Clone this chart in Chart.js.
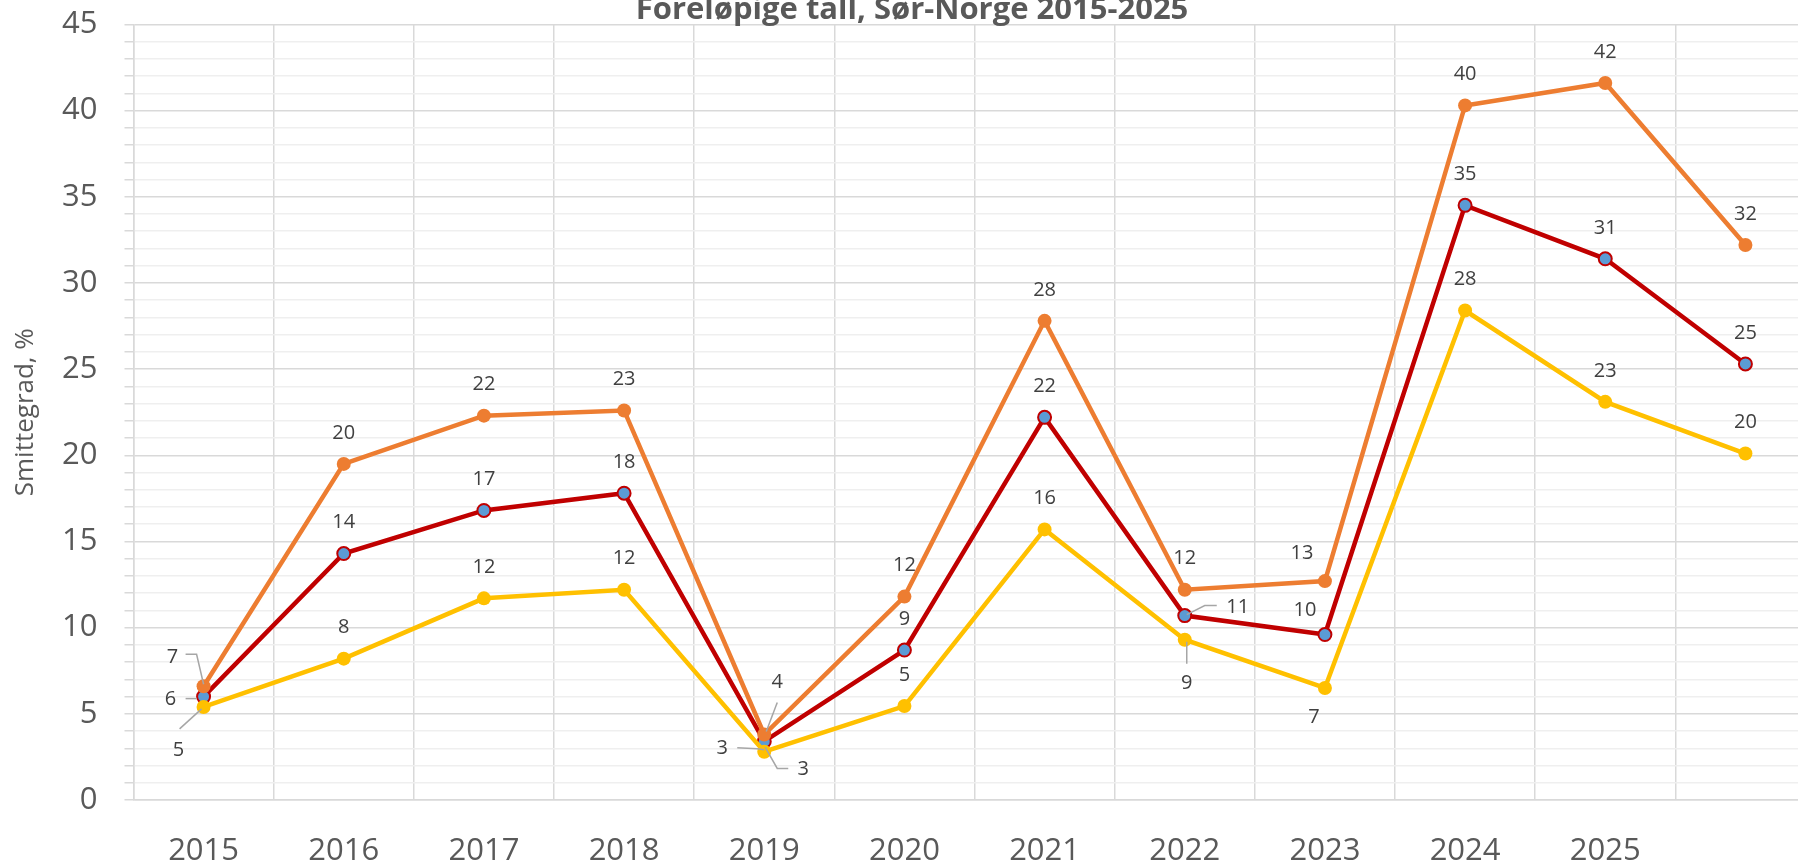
<!DOCTYPE html>
<html>
<head>
<meta charset="utf-8">
<script src="https://cdn.jsdelivr.net/npm/chart.js@4.4.1/dist/chart.umd.min.js"></script>
<style>
  html, body { margin: 0; padding: 0; width: 1798px; height: 863px; overflow: hidden; background: #fff; }
  #wrap { position: absolute; left: 0; top: -15px; width: 1824px; height: 878px; }
</style>
</head>
<body>
<div id="wrap"><canvas id="myChart"></canvas></div>
<script>
// data
const years = ['2015', '2016', '2017', '2018', '2019', '2020', '2021', '2022', '2023', '2024', '2025', ''];
const hoy = [6.6, 19.5, 22.3, 22.6, 3.8, 11.8, 27.8, 12.2, 12.7, 40.3, 41.6, 32.2];
const snitt = [6.0, 14.3, 16.8, 17.8, 3.4, 8.7, 22.2, 10.7, 9.6, 34.5, 31.4, 25.3];
const lav = [5.4, 8.2, 11.7, 12.2, 2.8, 5.45, 15.7, 9.3, 6.5, 28.4, 23.1, 20.1];

// label placement, relative to the point ("dataset-index")
const labelPos = {
  '0-0': { dx: -31, dy: -29, leader: [[-18, -32], [-7, -32], [0, -2]] },
  '0-4': { dx: 13, dy: -52, leader: [[13, -32], [2, -3]] },
  '0-8': { dx: -23, dy: -28 },
  '1-0': { dx: -33, dy: 3, leader: [[-18, 2], [-7, 2]] },
  '1-4': { dx: 39, dy: 28, leader: [[24, 27], [13, 27], [1, 6]] },
  '1-7': { dx: 53, dy: -8, leader: [[2, -1], [20, -10], [32, -10]] },
  '1-8': { dx: -20, dy: -24 },
  '2-0': { dx: -25, dy: 43, leader: [[-24, 22], [-2, 2]] },
  '2-4': { dx: -42, dy: -3, leader: [[-27, -4], [-7, -3], [0, -2]] },
  '2-7': { dx: 2, dy: 44, leader: [[2, 2], [2, 24]] },
  '2-8': { dx: -11, dy: 29 }
};

const dataLabels = {
  id: 'dataLabels',
  afterDatasetsDraw(chart) {
    const c = chart.ctx;
    c.save();
    c.font = '20px "Open Sans"';
    c.fillStyle = '#404040';
    c.textAlign = 'center';
    c.textBaseline = 'middle';
    chart.data.datasets.forEach((ds, di) => {
      chart.getDatasetMeta(di).data.forEach((pt, i) => {
        const p = labelPos[di + '-' + i] || { dx: 0, dy: -31 };
        if (p.leader) {
          c.strokeStyle = '#A6A6A6';
          c.lineWidth = 1.5;
          c.beginPath();
          p.leader.forEach((q, k) => {
            k ? c.lineTo(pt.x + q[0], pt.y + q[1]) : c.moveTo(pt.x + q[0], pt.y + q[1]);
          });
          c.stroke();
        }
        c.fillText(Math.round(ds.data[i]), pt.x + p.dx, pt.y + p.dy);
      });
    });
    c.restore();
  }
};

new Chart(document.getElementById('myChart'), {
  type: 'line',
  data: {
    labels: years,
    datasets: [
      {
        label: 'Høyeste',
        data: hoy,
        borderColor: '#ED7D31',
        backgroundColor: '#ED7D31',
        borderWidth: 4.5,
        pointRadius: 7,
        pointBorderWidth: 0,
        order: 2
      },
      {
        label: 'Snitt',
        data: snitt,
        borderColor: '#C00000',
        backgroundColor: '#5B9BD5',
        pointBorderColor: '#C00000',
        borderWidth: 4.5,
        pointRadius: 6.5,
        pointBorderWidth: 2,
        order: 3
      },
      {
        label: 'Laveste',
        data: lav,
        borderColor: '#FFC000',
        backgroundColor: '#FFC000',
        borderWidth: 4.5,
        pointRadius: 7,
        pointBorderWidth: 0,
        order: 1
      }
    ]
  },
  options: {
    responsive: true,
    maintainAspectRatio: false,
    animation: false,
    devicePixelRatio: 1,
    layout: { padding: 0 },
    plugins: {
      legend: { display: false },
      tooltip: { enabled: false },
      title: {
        display: true,
        text: 'Foreløpige tall, Sør-Norge 2015-2025',
        color: '#595959',
        font: { family: "'Liberation Sans Narrow', 'Open Sans'", size: 31, weight: 'bold', lineHeight: 0.9 },
        padding: 0
      }
    },
    scales: {
      x: {
        offset: true,
        afterFit: s => { s.height = 63; },
        ticks: { color: '#595959', font: { family: 'Open Sans', size: 31 }, padding: 33, maxRotation: 0, autoSkip: false },
        grid: { color: '#D9D9D9', lineWidth: 1.5, drawTicks: false, offset: true },
        border: { color: '#D9D9D9', width: 1.5 }
      },
      y: {
        min: 0,
        max: 45,
        afterFit: s => { s.width = 133.5; },
        ticks: {
          stepSize: 1,
          autoSkip: false,
          padding: 27,
          color: '#595959',
          font: { family: 'Open Sans', size: 31, lineHeight: 0.8 },
          callback: v => (v % 5 === 0 ? v : '')
        },
        grid: {
          color: ctx => (ctx.tick && ctx.tick.value % 5 === 0 ? '#D9D9D9' : '#EFEFEF'),
          lineWidth: 1.5,
          tickLength: 9,
          tickColor: '#D9D9D9'
        },
        border: { color: '#D9D9D9', width: 1.5 },
        title: {
          display: true,
          text: 'Smittegrad, %',
          color: '#595959',
          font: { family: 'Open Sans', size: 26 },
          padding: { top: 10, bottom: 0 }
        }
      }
    }
  },
  plugins: [dataLabels]
});
</script>
</body>
</html>
